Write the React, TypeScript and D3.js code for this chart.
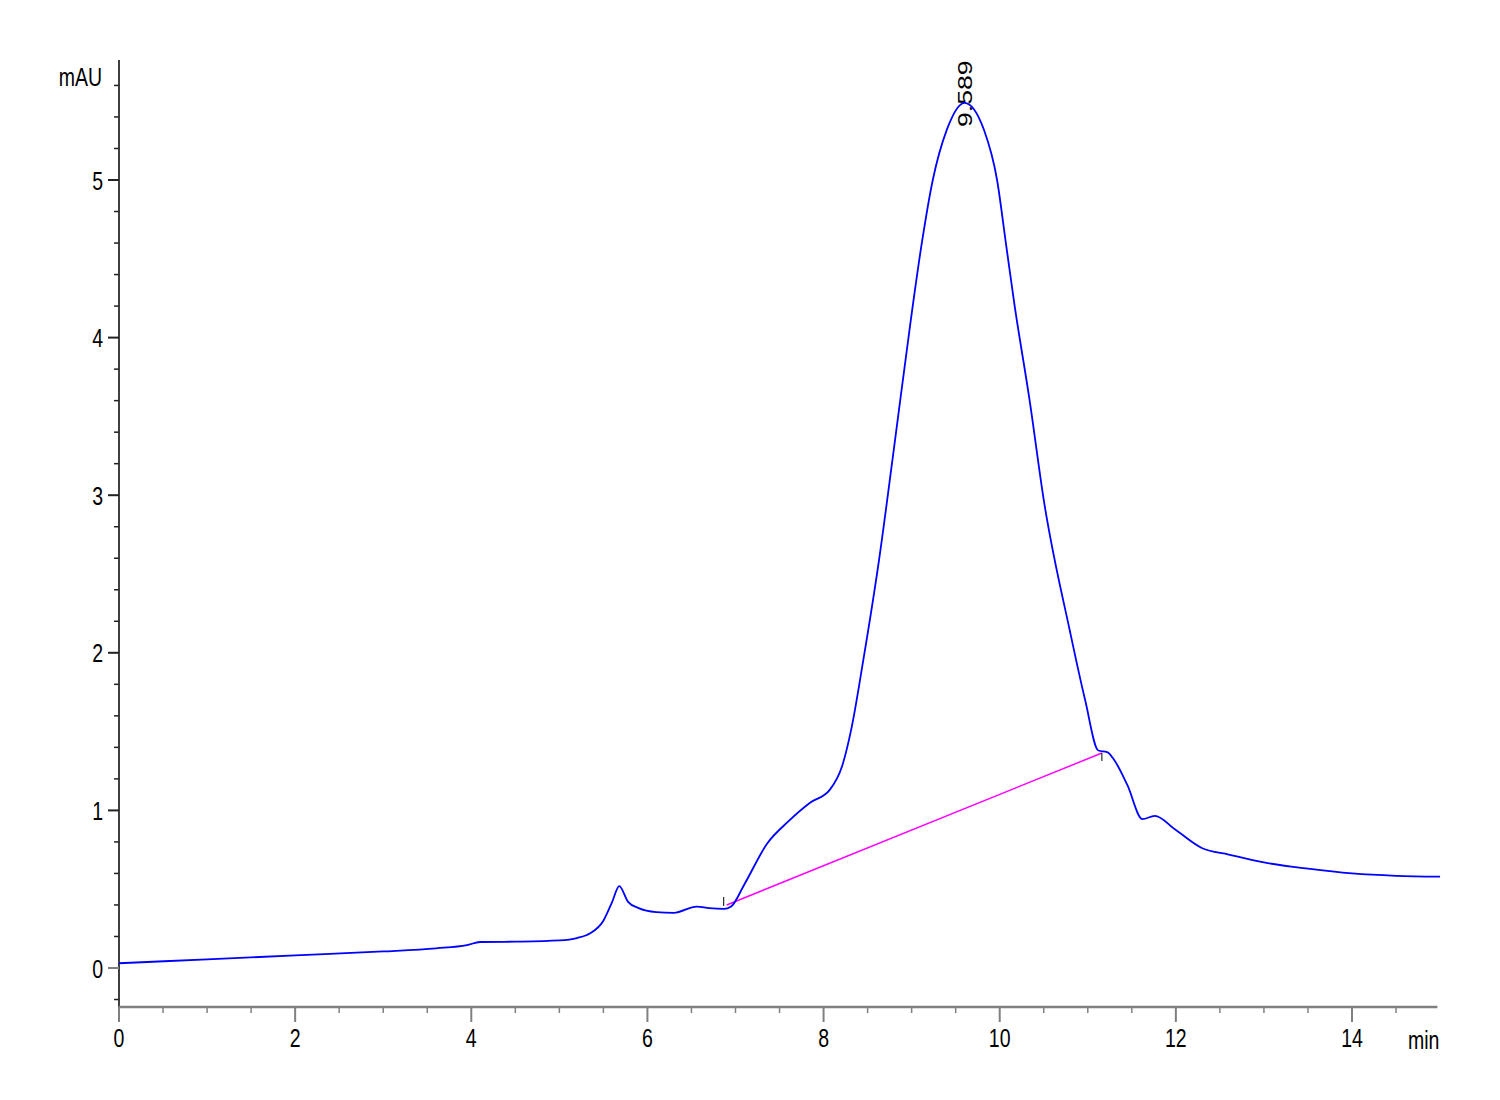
import * as d3 from "d3";
import React from "react";

// retention time (min) and absorbance (mAU)
const times = [0, 1, 2, 3, 3.6, 3.95, 4.1, 4.5, 5, 5.2, 5.35, 5.5, 5.6, 5.68, 5.78, 5.9, 6.1, 6.3, 6.56, 6.7, 6.87,
  6.95, 7.1, 7.36, 7.6, 7.85, 8.07, 8.21, 8.32, 8.45, 8.63, 8.8, 8.99, 9.11, 9.24, 9.4, 9.6, 9.82, 9.97, 10.07,
  10.17, 10.34, 10.5, 10.8, 10.97, 11.12, 11.22, 11.3, 11.45, 11.62, 11.76, 12.0, 12.3, 12.6, 13.0, 13.5, 14.0, 14.5, 15.0];
const signal = [0.03, 0.055, 0.08, 0.105, 0.125, 0.145, 0.165, 0.167, 0.175, 0.19, 0.22, 0.3, 0.42, 0.52, 0.42, 0.38, 0.355, 0.35, 0.39, 0.38, 0.375,
  0.39, 0.53, 0.79, 0.93, 1.05, 1.13, 1.28, 1.53, 1.95, 2.59, 3.3, 4.11, 4.58, 5.0, 5.32, 5.49, 5.32, 5.0, 4.6,
  4.2, 3.6, 2.97, 2.13, 1.7, 1.38, 1.37, 1.32, 1.16, 0.945, 0.965, 0.875, 0.76, 0.72, 0.67, 0.63, 0.6, 0.585, 0.58];

const baselineT = [6.9, 11.16];
const baselineY = [0.4, 1.364];
const peakLabel = "9.589";
const peakT = 9.589;

const xMajor = [0, 2, 4, 6, 8, 10, 12, 14];
const yMajor = [0, 1, 2, 3, 4, 5];

const FONT = "'Liberation Sans', Arial, sans-serif";
const FS = 19.5;
const STRETCH = 1.3; // labels in the export are stretched vertically

export default function App() {
  const x = d3.scaleLinear().domain([0, 14]).range([119, 1352]);
  const y = d3.scaleLinear().domain([0, 5]).range([968, 180]);

  const pts: [number, number][] = times.map((t, i) => [t, signal[i]]);
  const line = d3.line<[number, number]>()
    .x(d => x(d[0]))
    .y(d => y(d[1]))
    .curve(d3.curveMonotoneX);

  const xMinor = d3.range(0, 14.51, 0.5);
  const yMinor = d3.range(-0.2, 5.61, 0.2).map(v => Math.round(v * 10) / 10);
  const axisY = 1007;

  const label = (key: string, tx: number, ty: number, txt: string, anchor: string) => (
    <text key={key} transform={`translate(${tx},${ty}) scale(1,${STRETCH})`} textAnchor={anchor}
      fontFamily={FONT} fontSize={FS} fill="#000">{txt}</text>
  );

  return (
    <svg width={1500} height={1100} style={{ position: "absolute", left: 0, top: 0, background: "#fff" }}>
      {/* y axis */}
      <line x1={119} x2={119} y1={60} y2={1022} stroke="#000" strokeWidth={1.5} />
      {yMinor.map(v => {
        const major = Math.abs(v - Math.round(v)) < 1e-6;
        return (
          <line key={"yt" + v} x1={major ? 108 : 114} x2={119} y1={y(v)} y2={y(v)}
            stroke={v === 0 ? "#808080" : "#222"} strokeWidth={major ? 2 : 1.5} />
        );
      })}
      {yMajor.map(v => label("yl" + v, 103, y(v) + 9.5, String(v), "end"))}
      {label("unitY", 102, 86, "mAU", "end")}

      {/* x axis */}
      <line x1={119} x2={x(14.97)} y1={axisY} y2={axisY} stroke="#808080" strokeWidth={2.5} />
      {xMinor.map(v => {
        const major = v % 2 === 0;
        return (
          <line key={"xt" + v} x1={x(v)} x2={x(v)} y1={axisY} y2={axisY + (major ? 15 : 6)}
            stroke="#808080" strokeWidth={major ? 2 : 1.5} />
        );
      })}
      {xMajor.map(v => label("xl" + v, x(v), 1047, String(v), "middle"))}
      {label("unitX", 1408, 1049, "min", "start")}

      {/* peak label, drawn under the trace */}
      <text transform={`translate(${x(peakT) + 8},127) scale(1,${STRETCH}) rotate(-90)`}
        fontFamily={FONT} fontSize={20.5} fill="#000">{peakLabel}</text>

      {/* integration baseline */}
      <line x1={x(baselineT[0])} x2={x(baselineT[1])} y1={y(baselineY[0])} y2={y(baselineY[1])}
        stroke="#ff00ff" strokeWidth={1.5} />
      <line x1={x(baselineT[0]) - 3} x2={x(baselineT[0]) - 3} y1={y(baselineY[0]) - 8} y2={y(baselineY[0]) + 1}
        stroke="#000" strokeWidth={1} />
      <line x1={x(baselineT[1])} x2={x(baselineT[1])} y1={y(baselineY[1])} y2={y(baselineY[1]) + 8}
        stroke="#000" strokeWidth={1} />

      {/* trace */}
      <path d={line(pts) ?? ""} fill="none" stroke="#0000ff" strokeWidth={1.8} />
    </svg>
  );
}
